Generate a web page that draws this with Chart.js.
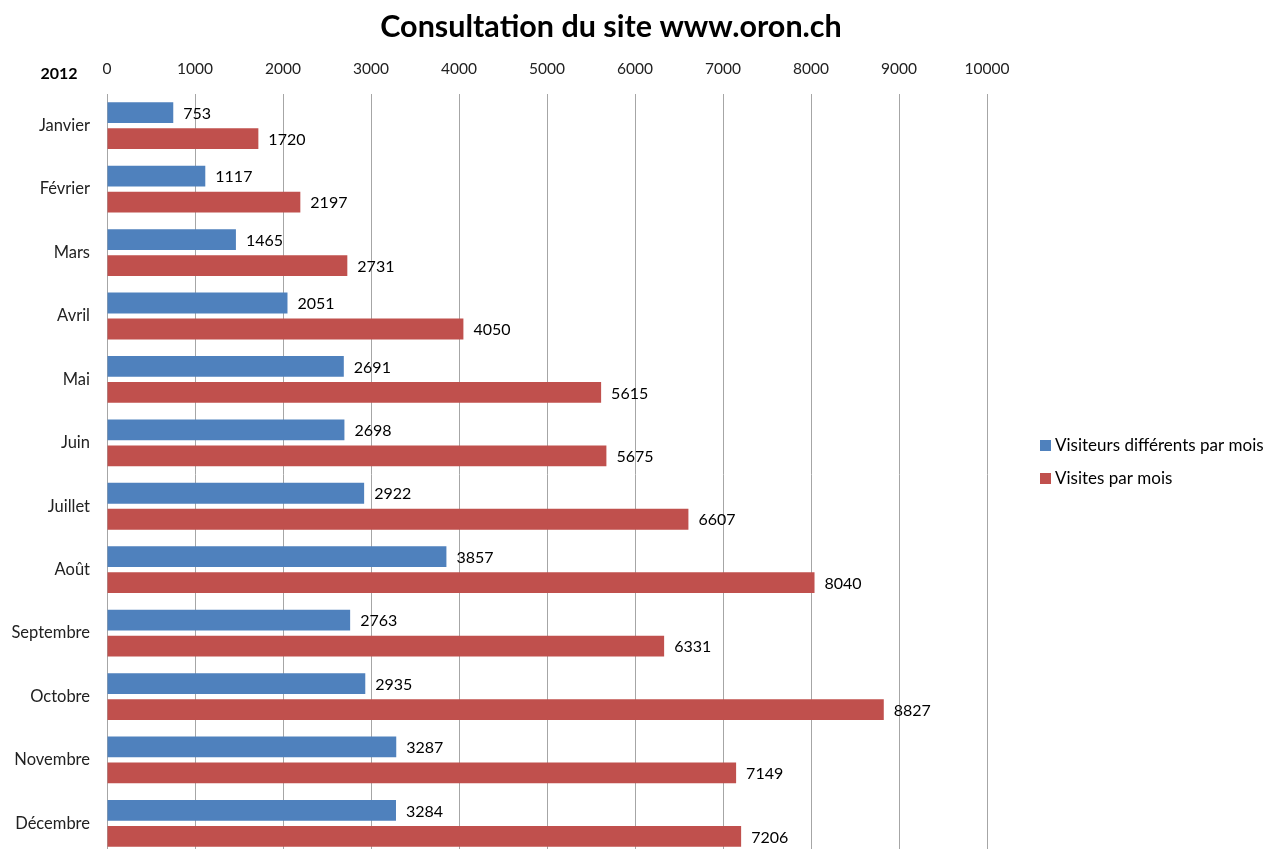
<!DOCTYPE html>
<html>
<head>
<meta charset="utf-8">
<script src="https://cdn.jsdelivr.net/npm/chart.js@4"></script>
<style>
  html, body { margin: 0; padding: 0; background: #fff; overflow: hidden; }
  #wrap { width: 1268px; height: 882px; position: relative; }
</style>
</head>
<body>
<div id="wrap"><canvas id="chart"></canvas></div>
<script>
// --- data ---
const months = ['Janvier', 'Février', 'Mars', 'Avril', 'Mai', 'Juin', 'Juillet', 'Août', 'Septembre', 'Octobre', 'Novembre', 'Décembre'];
const visitors = [753, 1117, 1465, 2051, 2691, 2698, 2922, 3857, 2763, 2935, 3287, 3284];
const visits = [1720, 2197, 2731, 4050, 5615, 5675, 6607, 8040, 6331, 8827, 7149, 7206];
const seriesNames = ['Visiteurs différents par mois', 'Visites par mois'];
const seriesColors = ['#4F81BD', '#C0504D'];
const xTicks = [0, 1000, 2000, 3000, 4000, 5000, 6000, 7000, 8000, 9000, 10000];

const FONT = 'Lato, "Open Sans", sans-serif';

// --- title, year, value labels, legend ---
const extras = {
  id: 'extras',
  afterDatasetsDraw(chart) {
    const ctx = chart.ctx;
    ctx.save();
    ctx.fillStyle = '#000';
    ctx.textBaseline = 'middle';

    // value labels right of each bar
    ctx.font = '16px ' + FONT;
    ctx.textAlign = 'left';
    chart.data.datasets.forEach((ds, i) => {
      chart.getDatasetMeta(i).data.forEach((bar, j) => {
        ctx.fillText(ds.data[j], bar.x + 10, bar.y + 1);
      });
    });

    // title
    ctx.font = 'bold 30.5px ' + FONT;
    ctx.textAlign = 'center';
    ctx.fillText('Consultation du site www.oron.ch', 611, 27);

    // year label
    ctx.font = 'bold 16px ' + FONT;
    ctx.fillText('2012', 59, 74);

    // legend
    ctx.font = '17px ' + FONT;
    ctx.textAlign = 'left';
    seriesNames.forEach((name, i) => {
      const y = 446 + i * 33;
      ctx.fillStyle = seriesColors[i];
      ctx.fillRect(1040, y - 6, 11, 11);
      ctx.fillStyle = '#000';
      ctx.fillText(name, 1055, y);
    });
    ctx.restore();
  }
};

new Chart(document.getElementById('chart'), {
  type: 'bar',
  data: {
    labels: months,
    datasets: [
      { label: seriesNames[0], data: visitors, backgroundColor: seriesColors[0], categoryPercentage: 0.82, barPercentage: 0.8 },
      { label: seriesNames[1], data: visits, backgroundColor: seriesColors[1], categoryPercentage: 0.82, barPercentage: 0.8 }
    ]
  },
  options: {
    indexAxis: 'y',
    responsive: true,
    maintainAspectRatio: false,
    animation: false,
    layout: { padding: { top: 54, right: 281, bottom: 6, left: 0 } },
    scales: {
      x: {
        position: 'top',
        min: 0, max: 10000,
        afterBuildTicks: s => { s.ticks = xTicks.map(v => ({ value: v })); },
        afterFit: s => { s.height = 40; },
        grid: { color: '#a6a6a6', lineWidth: 1, drawTicks: false },
        border: { display: false },
        ticks: { color: '#222', font: { family: FONT, size: 15.5 }, padding: 16, maxRotation: 0, callback: v => String(v) }
      },
      y: {
        afterFit: s => { s.width = 107; },
        grid: { display: false, drawTicks: false },
        border: { display: true, color: '#a6a6a6' },
        ticks: { color: '#222', font: { family: FONT, size: 16.5 }, padding: 17 }
      }
    },
    plugins: {
      legend: { display: false },
      title: { display: false },
      tooltip: { enabled: false }
    }
  },
  plugins: [extras]
});
</script>
</body>
</html>
